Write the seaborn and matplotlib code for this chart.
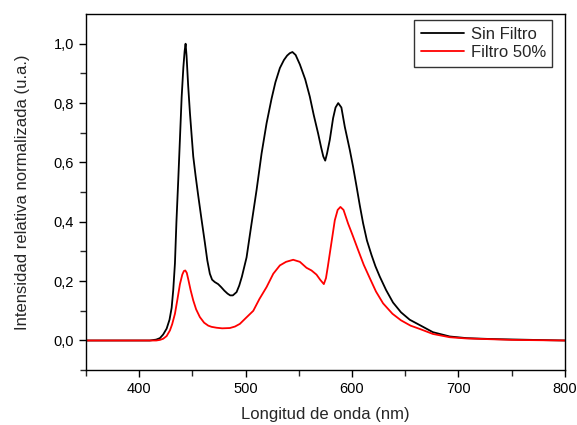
import numpy as np
import pandas as pd
import seaborn as sns
import matplotlib
matplotlib.use("Agg")
import matplotlib.pyplot as plt
from matplotlib.ticker import FuncFormatter, MultipleLocator

# Sin Filtro (black)
wl_sin = [350, 380, 400, 410, 416, 419.5, 422.5, 425.8, 428.5, 430.5, 432, 433.6, 435, 436.7,
          438.3, 439.9, 441.5, 442.7, 443.6, 444.5, 446, 447.7, 449.3, 450.8, 453, 455.4,
          458.5, 461.7, 464, 466.4, 468.5, 471, 474.2, 477, 480, 483, 485.5, 488, 491.5,
          494, 496.5, 500.9, 505, 510.3, 515, 519.7, 524.4, 528, 532.2, 536, 539, 541.5,
          544, 547, 551, 556, 560.3, 564, 568.1, 571, 573, 574.8, 576.5, 579.1, 582.2, 584.5,
          587, 590, 593.2, 597.9, 601, 604.2, 607.3, 610.4, 614, 618.3, 622, 626.1, 632,
          638.5, 646, 654.2, 663.6, 676, 691.8, 707.5, 730, 770, 800]
val_sin = [0.0, 0.0, 0.0, 0.0, 0.003, 0.008, 0.02, 0.04, 0.07, 0.11, 0.17, 0.26, 0.40, 0.54,
           0.68, 0.82, 0.92, 0.975, 1.0, 0.96, 0.86, 0.766, 0.69, 0.62, 0.555, 0.49,
           0.41, 0.33, 0.27, 0.225, 0.205, 0.197, 0.19, 0.18, 0.168, 0.158, 0.152, 0.152, 0.163,
           0.185, 0.215, 0.28, 0.38, 0.507, 0.63, 0.732, 0.815, 0.87, 0.918, 0.945, 0.96, 0.968,
           0.972, 0.962, 0.93, 0.88, 0.822, 0.76, 0.698, 0.65, 0.62, 0.606, 0.63, 0.676, 0.749, 0.785,
           0.80, 0.785, 0.72, 0.642, 0.585, 0.52, 0.455, 0.395, 0.337, 0.288, 0.25, 0.215, 0.17,
           0.128, 0.095, 0.07, 0.052, 0.028, 0.0135, 0.008, 0.005, 0.002, 0.0]

# Filtro 50% (red)
wl_fil = [350, 380, 400, 416, 419.5, 422.6, 425.8, 428.9, 431, 433.6, 436, 438.3, 440.5,
          442, 443.3, 444.7, 446, 448.3, 450.8, 453.5, 457, 461, 464.9, 468, 472.7, 478,
          485.2, 490, 494.6, 500, 507.2, 513, 519.7, 526, 532.2, 538, 544.7, 551, 557.2,
          561.9, 566.6, 570, 573.5, 575.5, 577.3, 579.1, 581.5, 583.8, 586.5, 589.1, 592,
          596.3, 600.5, 605.7, 611, 616.7, 622.5, 629.2, 638, 646, 655, 663.6, 676, 691.8,
          707, 750, 800]
val_fil = [0.0, 0.0, 0.0, 0.0, 0.002, 0.006, 0.015, 0.034, 0.055, 0.09, 0.14, 0.19, 0.222,
           0.234, 0.236, 0.228, 0.208, 0.17, 0.135, 0.105, 0.079, 0.06, 0.05, 0.046, 0.043, 0.041,
           0.042, 0.047, 0.056, 0.075, 0.10, 0.14, 0.18, 0.225, 0.253, 0.265, 0.272, 0.265, 0.245,
           0.236, 0.222, 0.205, 0.19, 0.21, 0.25, 0.293, 0.35, 0.405, 0.44, 0.45, 0.44,
           0.394, 0.355, 0.305, 0.255, 0.21, 0.165, 0.125, 0.09, 0.068, 0.05, 0.039, 0.022, 0.011,
           0.007, 0.002, 0.0]

labels = ["Sin Filtro", "Filtro 50%"]

df = pd.concat([
    pd.DataFrame({"wl": wl_sin, "val": val_sin, "serie": labels[0]}),
    pd.DataFrame({"wl": wl_fil, "val": val_fil, "serie": labels[1]}),
])

sns.set_style("ticks")
plt.rcParams["font.family"] = ["Liberation Sans", "DejaVu Sans"]

fig = plt.figure(figsize=(5.77, 4.25), dpi=100)
ax = fig.add_axes([0.149, 0.129, 0.83, 0.838])

sns.lineplot(data=df, x="wl", y="val", hue="serie", hue_order=labels,
             palette={labels[0]: "black", labels[1]: "#ff0000"},
             estimator=None, sort=True, linewidth=1.3, ax=ax)

ax.set_xlim(350, 800)
ax.set_ylim(-0.1, 1.1)
ax.xaxis.set_major_locator(MultipleLocator(100))
ax.xaxis.set_minor_locator(MultipleLocator(50))
ax.set_yticks([0.0, 0.2, 0.4, 0.6, 0.8, 1.0])
ax.set_yticks([-0.1, 0.1, 0.3, 0.5, 0.7, 0.9], minor=True)
ax.yaxis.set_major_formatter(FuncFormatter(lambda v, p: f"{v:.1f}".replace(".", ",")))
ax.tick_params(which="major", direction="out", length=5, width=1, labelsize=10.5, colors="black")
ax.tick_params(which="minor", direction="out", length=4, width=1)
for s in ax.spines.values():
    s.set_visible(True)
    s.set_linewidth(1.0)
    s.set_color("black")

ax.set_xlabel("Longitud de onda (nm)", fontsize=12, labelpad=8)
ax.set_ylabel("Intensidad relativa normalizada (u.a.)", fontsize=12, labelpad=17)

leg = ax.legend(loc="upper right", fontsize=12, frameon=True, fancybox=False,
                edgecolor="black", handlelength=2.6, borderpad=0.4, labelspacing=0.2,
                handletextpad=0.4, borderaxespad=0, bbox_to_anchor=(0.974, 0.983))
leg.get_frame().set_linewidth(1.0)

fig.savefig("out.png", dpi=100)
